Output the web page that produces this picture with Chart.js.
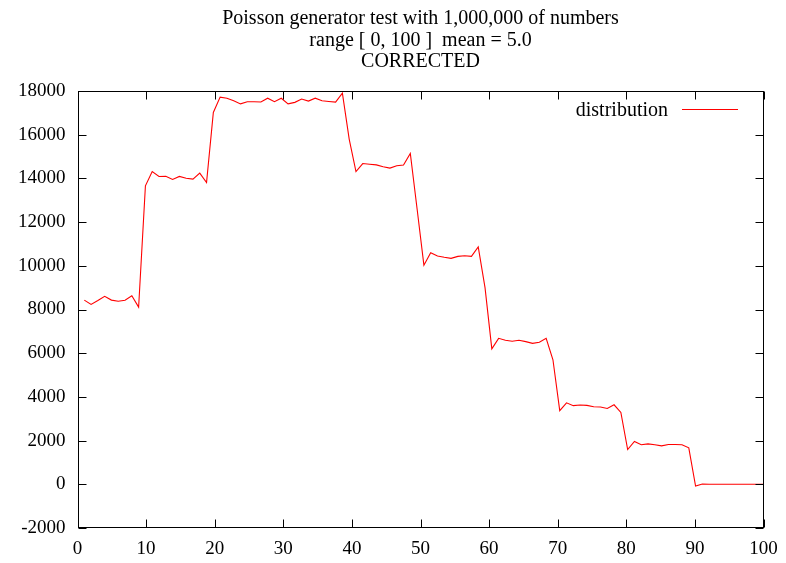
<!DOCTYPE html>
<html><head><meta charset="utf-8">
<script src="https://cdn.jsdelivr.net/npm/chart.js@4.4.0/dist/chart.umd.min.js"></script>
<style>html,body{margin:0;padding:0;background:#fff}</style>
</head><body>
<canvas id="c" width="786" height="563"></canvas>
<script>
const titleLines = ['Poisson generator test with 1,000,000 of numbers', 'range [ 0, 100 ]  mean = 5.0', 'CORRECTED'];
const seriesLabel = 'distribution';
// bin numbers 1..101
const bins = [1,2,3,4,5,6,7,8,9,10,11,12,13,14,15,16,17,18,19,20,21,22,23,24,25,26,27,28,29,30,31,32,33,34,35,36,37,38,39,40,41,42,43,44,45,46,47,48,49,50,51,52,53,54,55,56,57,58,59,60,61,62,63,64,65,66,67,68,69,70,71,72,73,74,75,76,77,78,79,80,81,82,83,84,85,86,87,88,89,90,91,92,93,94,95,96,97,98,99,100,101];
const counts = [
  8430, 8230, 8410, 8600, 8430, 8380, 8420, 8630, 8110, 13660,
  14310, 14090, 14100, 13950, 14090, 14010, 13970, 14240, 13810, 17020,
  17720, 17670, 17550, 17410, 17510, 17510, 17500, 17670, 17510, 17670,
  17410, 17480, 17630, 17540, 17670, 17550, 17520, 17490, 17900, 15800,
  14310, 14680, 14650, 14620, 14530, 14470, 14580, 14610, 15140, 12600,
  10030, 10600, 10450, 10390, 10340, 10430, 10460, 10430, 10860, 9000,
  6200, 6680, 6590, 6550, 6590, 6530, 6450, 6500, 6680, 5700,
  3370, 3730, 3600, 3630, 3610, 3550, 3540, 3470, 3640, 3290,
  1590, 1960, 1810, 1850, 1810, 1760, 1820, 1820, 1810, 1670,
  -80, 10, 5, 5, 5, 5, 5, 5, 5, 5, 5
];
const xTicks = [0,10,20,30,40,50,60,70,80,90,100];
const yTicks = [-2000,0,2000,4000,6000,8000,10000,12000,14000,16000,18000];
const binsPerRange = 101; // bins spread over the axis range [0,100]

const FONT = '"Liberation Serif", "Times New Roman", serif';

const framePlugin = {
  id: 'frame',
  afterDatasetsDraw(chart) {
    const ctx = chart.ctx, a = chart.chartArea;
    const xs = chart.scales.x, ys = chart.scales.y;
    ctx.save();
    ctx.strokeStyle = '#000';
    ctx.lineWidth = 1;
    const L = Math.round(a.left) + 0.5, R = Math.round(a.right) - 0.5;
    const T = Math.round(a.top) + 0.5, B = Math.round(a.bottom) - 0.5;
    ctx.strokeRect(L, T, R - L, B - T);
    const tl = 8;
    ctx.beginPath();
    xs.ticks.forEach(t => {
      const px = Math.round(xs.getPixelForValue(t.value)) + 0.5;
      ctx.moveTo(px, B); ctx.lineTo(px, B - tl);
      ctx.moveTo(px, T); ctx.lineTo(px, T + tl);
    });
    ys.ticks.forEach(t => {
      const py = Math.round(ys.getPixelForValue(t.value)) + 0.5;
      ctx.moveTo(L, py); ctx.lineTo(L + tl, py);
      ctx.moveTo(R, py); ctx.lineTo(R - tl, py);
    });
    ctx.stroke();
    // legend inside plot
    const ds = chart.data.datasets[0];
    const ly = Math.round(a.top + 18) + 0.5;
    const lineEnd = a.right - 25.5, lineStart = lineEnd - 56;
    ctx.strokeStyle = ds.borderColor;
    ctx.beginPath(); ctx.moveTo(lineStart, ly); ctx.lineTo(lineEnd, ly); ctx.stroke();
    ctx.fillStyle = '#000';
    ctx.font = '20px ' + FONT;
    ctx.textAlign = 'right'; ctx.textBaseline = 'middle';
    ctx.fillText(ds.label, lineStart - 14, ly + 1);
    // title
    ctx.textAlign = 'center';
    const cx = (a.left + a.right) / 2;
    const ty = [19, 40.5, 62];
    titleLines.forEach((s, k) => ctx.fillText(s, cx, ty[k]));
    ctx.restore();
  }
};

new Chart(document.getElementById('c'), {
  type: 'line',
  data: {
    datasets: [{
      label: seriesLabel,
      data: bins.map((b, k) => ({ x: b * 100 / binsPerRange, y: counts[k] })),
      borderColor: '#ff0000',
      borderWidth: 1.1,
      pointRadius: 0,
      tension: 0,
      fill: false
    }]
  },
  options: {
    responsive: false,
    animation: false,
    layout: { padding: { top: 91, right: 22.5, left: 0, bottom: 0 } },
    plugins: { legend: { display: false }, title: { display: false }, tooltip: { enabled: false } },
    scales: {
      x: {
        type: 'linear', min: 0, max: 100,
        afterBuildTicks: s => { s.ticks = xTicks.map(v => ({ value: v })); },
        afterFit: s => { s.height = 35; s.paddingLeft = 0; s.paddingRight = 0; },
        grid: { display: false, drawTicks: false },
        border: { display: false },
        ticks: { color: '#000', font: { family: FONT, size: 19 }, padding: 10, maxRotation: 0, autoSkip: false, callback: v => String(v) }
      },
      y: {
        type: 'linear', min: -2000, max: 18000,
        afterBuildTicks: s => { s.ticks = yTicks.map(v => ({ value: v })); },
        afterFit: s => { s.width = 77.5; s.paddingTop = 0; s.paddingBottom = 0; },
        grid: { display: false, drawTicks: false },
        border: { display: false },
        ticks: { color: '#000', font: { family: FONT, size: 19 }, padding: 12, autoSkip: false, callback: v => String(v) }
      }
    }
  },
  plugins: [framePlugin]
});
</script>
</body></html>
